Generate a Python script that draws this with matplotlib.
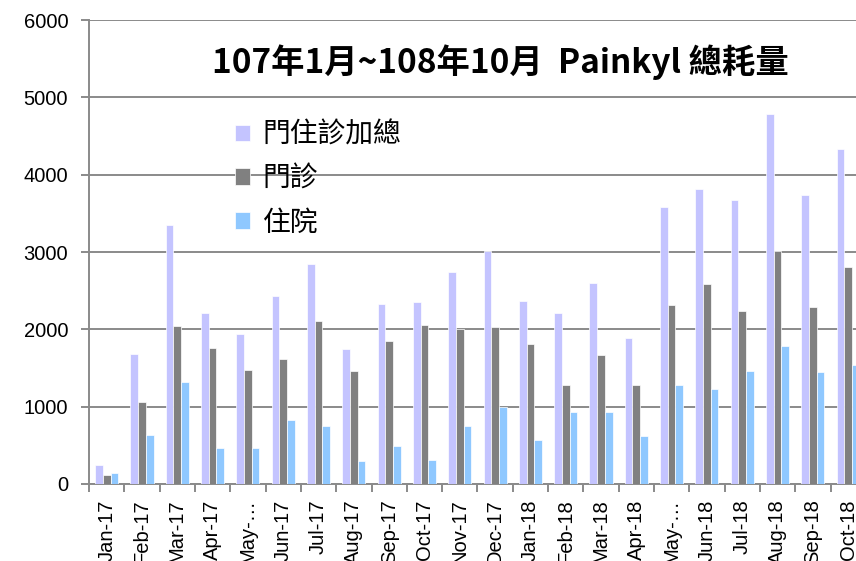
import numpy as np
import matplotlib
matplotlib.use('Agg')
import matplotlib.pyplot as plt

plt.rcParams['font.family'] = ['Liberation Sans', 'Noto Sans CJK TC', 'DejaVu Sans']

# data
months = ['Jan-17', 'Feb-17', 'Mar-17', 'Apr-17', 'May-…', 'Jun-17', 'Jul-17', 'Aug-17',
          'Sep-17', 'Oct-17', 'Nov-17', 'Dec-17', 'Jan-18', 'Feb-18', 'Mar-18', 'Apr-18',
          'May-…', 'Jun-18', 'Jul-18', 'Aug-18', 'Sep-18', 'Oct-18']
total = [250, 1680, 3350, 2215, 1936, 2431, 2841, 1746, 2324, 2358, 2746,
         3013, 2366, 2207, 2600, 1888, 3582, 3815, 3672, 4785, 3733, 4336]
outpatient = [122, 1056, 2043, 1754, 1474, 1612, 2108, 1461, 1845, 2060, 2010,
              2030, 1806, 1280, 1668, 1276, 2311, 2590, 2237, 3013, 2289, 2802]
inpatient = [146, 629, 1315, 470, 470, 828, 746, 297, 491, 310, 754,
             992, 573, 935, 935, 621, 1284, 1233, 1457, 1789, 1448, 1539]
series_names = ['門住診加總', '門診', '住院']
colors = ['#c4c4ff', '#808080', '#8fc8ff']

fig = plt.figure(figsize=(8.56, 5.61), dpi=100)
ax = fig.add_axes([0.104, 0.1373, 0.9075, 0.827])

x = np.arange(len(months))
w = 0.218
for i, (vals, name, c) in enumerate(zip([total, outpatient, inpatient], series_names, colors)):
    ax.bar(x + (i - 1) * w, vals, width=w, color=c, label=name,
           edgecolor='white', linewidth=0.5, zorder=3)

ax.set_xlim(-0.5, len(months) - 0.5)
ax.set_ylim(0, 6000)
ax.set_yticks(range(0, 6001, 1000))
ax.yaxis.grid(True, color='#8a8a8a', linewidth=1.4, zorder=0)
ax.set_axisbelow(True)

ax.set_xticks(x)
ax.set_xticklabels(months, rotation=90, fontsize=14.5)
ax.set_xticks(np.arange(-0.5, len(months), 1), minor=True)
ax.tick_params(axis='x', which='major', length=0, pad=11)
ax.tick_params(axis='x', which='minor', length=6, color='#8a8a8a', width=1.4)
ax.tick_params(axis='y', length=6, color='#8a8a8a', width=1.4, labelsize=14.5, pad=9)

for s in ['top', 'right']:
    ax.spines[s].set_visible(False)
for s in ['left', 'bottom']:
    ax.spines[s].set_color('#8a8a8a')
    ax.spines[s].set_linewidth(1.4)

fig.text(0.585, 0.89, '107年1月~108年10月  Painkyl 總耗量', ha='center', va='center',
         fontsize=24, fontweight='bold', family=['Noto Sans CJK TC', 'DejaVu Sans'])

leg = ax.legend(loc='upper left', bbox_to_anchor=(0.188, 0.785), frameon=False,
                borderpad=0, borderaxespad=0,
                prop={'family': 'Noto Sans CJK TC', 'size': 20},
                handlelength=0.55, handleheight=0.55, handletextpad=0.45, labelspacing=0.5)

fig.savefig('out.png', dpi=100)
